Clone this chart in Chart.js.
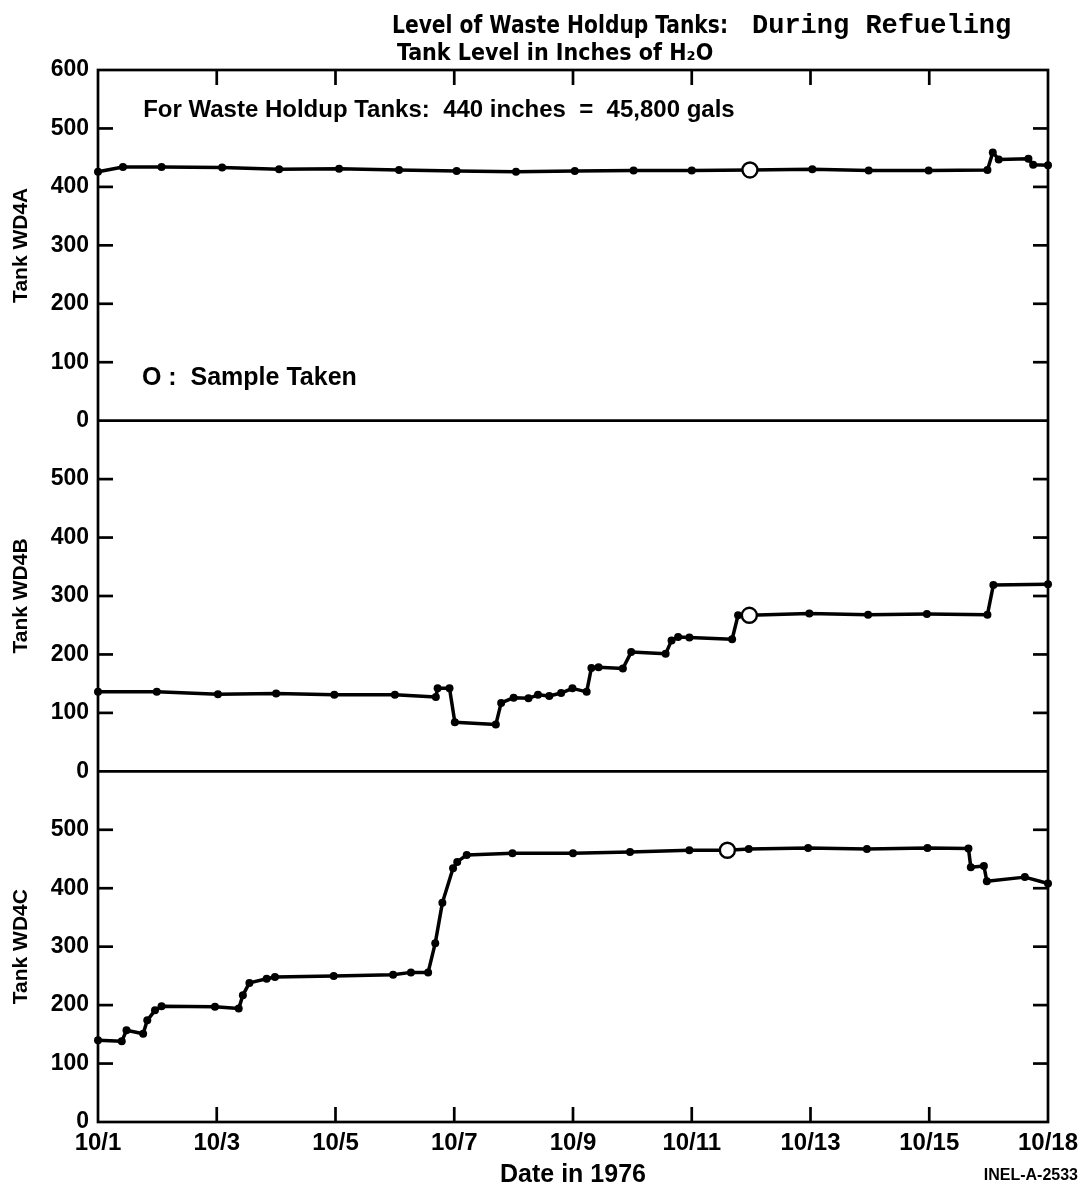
<!DOCTYPE html>
<html>
<head>
<meta charset="utf-8">
<title>Level of Waste Holdup Tanks</title>
<script src="https://cdn.jsdelivr.net/npm/chart.js@4.4.1/dist/chart.umd.min.js"></script>
<style>
  html, body { margin: 0; padding: 0; background: #fff; }
  #wrap { position: relative; width: 1090px; height: 1194px; }
</style>
</head>
<body>
<div id="wrap"><canvas id="tanks"></canvas></div>
<script>
// x is counted in days from 10/1 (0) to the right edge of the plot (16)
const dayLabels = ['10/1', '10/3', '10/5', '10/7', '10/9', '10/11', '10/13', '10/15', '10/18'];

// Tank WD4A
const dayA = [0, 0.42, 1.07, 2.09, 3.05, 4.06, 5.07, 6.04, 7.04, 8.03, 9.02, 10.0, 10.98, 12.03,
    12.98, 13.99, 14.98, 15.07, 15.17, 15.67, 15.75, 16];
const levelA = [426, 434, 434, 433, 430, 431, 429, 427, 426, 427, 428, 428, 429, 430,
    428, 428, 429, 459, 447, 448, 438, 437];
const sampleDayA = 10.98;

// Tank WD4B
const dayB = [0, 0.99, 2.02, 3.0, 3.98, 5.0, 5.69, 5.72, 5.92, 6.01, 6.70, 6.79, 7.0, 7.25, 7.41,
    7.6, 7.8, 7.99, 8.23, 8.31, 8.43, 8.84, 8.98, 9.56, 9.66, 9.77, 9.96, 10.68, 10.78, 10.97,
    11.98, 12.97, 13.96, 14.98, 15.08, 16];
const levelB = [136, 136, 132, 133, 131, 131, 127, 142, 142, 84, 80, 117, 126, 125, 131,
    129, 134, 142, 136, 177, 178, 176, 204, 201, 224, 230, 229, 226, 267, 267,
    270, 268, 269, 268, 319, 320];
const sampleDayB = 10.97;

// Tank WD4C
const dayC = [0, 0.40, 0.48, 0.76, 0.83, 0.96, 1.07, 1.97, 2.37, 2.44, 2.55, 2.84, 2.98, 3.97,
    4.97, 5.27, 5.56, 5.68, 5.80, 5.98, 6.05, 6.21, 6.98, 8.0, 8.96, 9.96, 10.6, 10.96, 11.96,
    12.95, 13.97, 14.66, 14.70, 14.92, 14.97, 15.61, 16];
const levelC = [140, 138, 157, 151, 174, 191, 198, 197, 194, 217, 238, 245, 248, 250,
    252, 256, 256, 306, 375, 434, 445, 457, 460, 460, 462, 465, 465, 467, 469,
    467, 469, 468, 436, 438, 412, 419, 408];
const sampleDayC = 10.6;

const titleMain = 'Level of Waste Holdup Tanks:';
const titlePhase = 'During Refueling';
const subtitle = 'Tank Level in Inches of H\u2082O';
const noteCapacity = 'For Waste Holdup Tanks:  440 inches  =  45,800 gals';
const noteSample = 'O :  Sample Taken';
const figureId = 'INEL-A-2533';

const SANS = '"Liberation Sans", Arial, Helvetica, sans-serif';
const NARROW = '"Liberation Sans Narrow", "DejaVu Sans Condensed", "Liberation Sans", sans-serif';
const MONO = '"Liberation Mono", "DejaVu Sans Mono", monospace';

Chart.defaults.font.family = SANS;
Chart.defaults.color = '#000';

function makeDataset(label, days, levels, sampleDay, axis) {
    const isSample = c => c.raw && c.raw.x === sampleDay;
    return {
        label: label,
        data: days.map((d, i) => ({ x: d, y: levels[i] })),
        yAxisID: axis,
        borderColor: '#000',
        borderWidth: 3.5,
        tension: 0,
        borderJoinStyle: 'round',
        pointRadius: c => isSample(c) ? 7.5 : 4,
        pointBackgroundColor: c => isSample(c) ? '#fff' : '#000',
        pointBorderColor: '#000',
        pointBorderWidth: c => isSample(c) ? 2.4 : 0,
        clip: 8
    };
}

function tankAxis(title, weight, showTop) {
    return {
        type: 'linear',
        position: 'left',
        stack: 'tanks',
        stackWeight: 1,
        weight: weight,
        min: 0,
        max: 600,
        ticks: {
            stepSize: 100,
            padding: 9,
            font: { size: 23, weight: 'bold' },
            callback: v => (v === 600 && !showTop) ? '' : v
        },
        title: {
            display: true,
            text: title,
            font: { size: 21, weight: 'bold' },
            padding: { top: 9, bottom: 0 }
        },
        grid: { display: false, drawTicks: false },
        border: { display: false },
        afterFit: s => { s.width = 98; }
    };
}

// box, panel separators and the inward tick marks
const frameMarks = {
    id: 'frameMarks',
    afterDatasetsDraw(chart) {
        const { ctx, chartArea: area, scales } = chart;
        const len = 15;
        const seg = (x1, y1, x2, y2) => {
            ctx.beginPath(); ctx.moveTo(x1, y1); ctx.lineTo(x2, y2); ctx.stroke();
        };
        ctx.save();
        ctx.strokeStyle = '#000';
        ctx.lineWidth = 2.7;
        ctx.strokeRect(area.left, area.top, area.width, area.height);
        ['yA', 'yB'].forEach(id => seg(area.left, scales[id].bottom, area.right, scales[id].bottom));
        ['yA', 'yB', 'yC'].forEach(id => {
            const s = scales[id];
            s.ticks.forEach(t => {
                if (t.value <= s.min || t.value >= s.max) return;
                const y = s.getPixelForValue(t.value);
                seg(area.left, y, area.left + len, y);
                seg(area.right - len, y, area.right, y);
            });
        });
        const sx = scales.x;
        sx.ticks.forEach(t => {
            if (t.value <= sx.min || t.value >= sx.max) return;
            const x = sx.getPixelForValue(t.value);
            seg(x, area.bottom, x, area.bottom - len);
            seg(x, area.top, x, area.top + len);
        });
        ctx.restore();
    }
};

// titles and notes
const notes = {
    id: 'notes',
    afterDraw(chart) {
        const { ctx, scales } = chart;
        ctx.save();
        ctx.fillStyle = '#000';
        ctx.textAlign = 'left';
        ctx.textBaseline = 'alphabetic';

        ctx.font = 'bold 25px ' + NARROW;
        ctx.fillText(titleMain, 392, 33, 336);
        ctx.font = 'bold 27px ' + MONO;
        ctx.fillText(titlePhase, 752, 33, 264);
        ctx.font = 'bold 23px ' + NARROW;
        ctx.fillText(subtitle, 397, 60, 324);

        ctx.font = 'bold 24px ' + SANS;
        ctx.fillText(noteCapacity, scales.x.getPixelForValue(0.76), scales.yA.getPixelForValue(519), 598);
        ctx.font = 'bold 25px ' + SANS;
        ctx.fillText(noteSample, scales.x.getPixelForValue(0.74), scales.yA.getPixelForValue(61), 218);

        ctx.font = 'bold 16px ' + SANS;
        ctx.textAlign = 'right';
        ctx.fillText(figureId, 1078, 1180, 114);
        ctx.restore();
    }
};

window.onload = () => {
    const ctx = document.getElementById('tanks').getContext('2d');
    new Chart(ctx, {
        type: 'line',
        data: {
            datasets: [
                makeDataset('Tank WD4A', dayA, levelA, sampleDayA, 'yA'),
                makeDataset('Tank WD4B', dayB, levelB, sampleDayB, 'yB'),
                makeDataset('Tank WD4C', dayC, levelC, sampleDayC, 'yC')
            ]
        },
        options: {
            responsive: true,
            maintainAspectRatio: false,
            animation: false,
            layout: { padding: { top: 70, right: 42, left: 0, bottom: 0 } },
            plugins: { legend: { display: false }, tooltip: { enabled: false } },
            scales: {
                x: {
                    type: 'linear',
                    position: 'bottom',
                    min: 0,
                    max: 16,
                    ticks: {
                        stepSize: 2,
                        autoSkip: false,
                        maxRotation: 0,
                        padding: 7,
                        font: { size: 24, weight: 'bold' },
                        callback: v => dayLabels[v / 2]
                    },
                    title: {
                        display: true,
                        text: 'Date in 1976',
                        font: { size: 25, weight: 'bold' },
                        padding: { top: 0, bottom: 4 }
                    },
                    grid: { display: false, drawTicks: false },
                    border: { display: false },
                    afterFit: s => { s.height = 72; }
                },
                yA: tankAxis('Tank WD4A', 3, true),
                yB: tankAxis('Tank WD4B', 2, false),
                yC: tankAxis('Tank WD4C', 1, false)
            }
        },
        plugins: [frameMarks, notes]
    });
};
</script>
</body>
</html>
